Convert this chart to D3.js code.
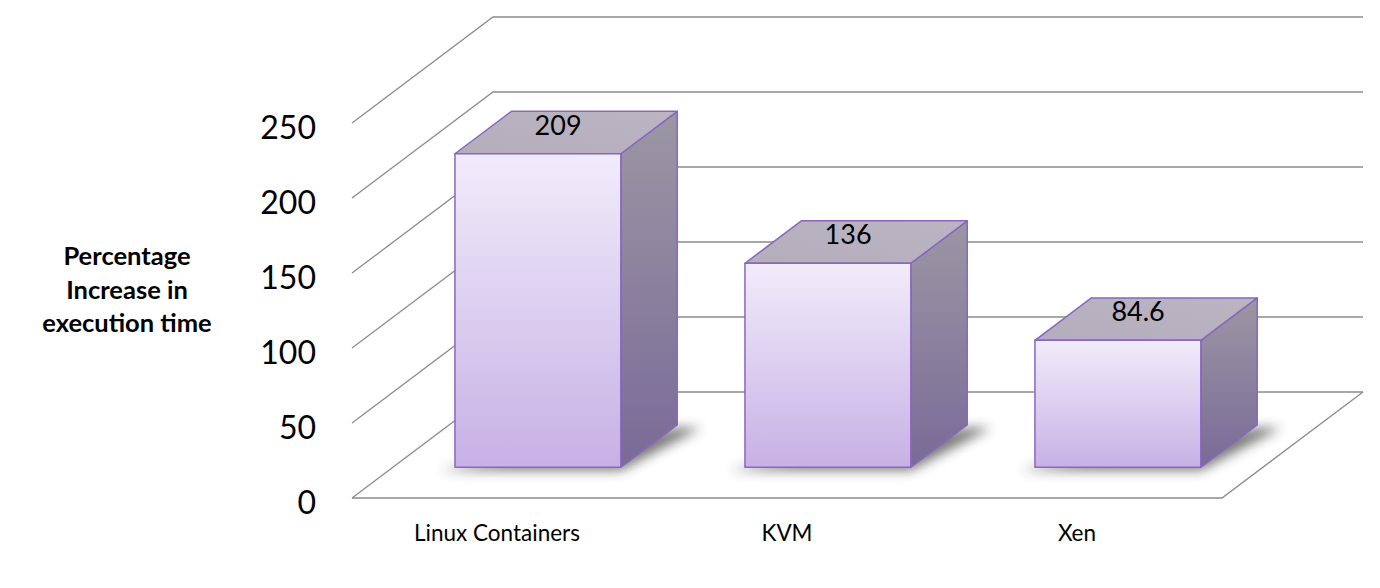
<!DOCTYPE html>
<html><head><meta charset="utf-8">
<script src="https://cdn.jsdelivr.net/npm/d3@7/dist/d3.min.js"></script>
<style>html,body{margin:0;padding:0;background:#fff;}svg{display:block;}</style>
</head><body>
<svg id="chart" width="1380" height="588"></svg>
<script>
const categories = ["Linux Containers", "KVM", "Xen"];
const values = [209, 136, 84.6];
const valueLabels = ["209", "136", "84.6"];
const yTicks = [0, 50, 100, 150, 200, 250];
const axisTitle = ["Percentage", "Increase in", "execution time"];

const W = 1380, H = 588;
const svg = d3.select("#chart");
const X0 = 352, X1 = 1222, Y0 = 498, Y1 = 123;
const DX = 141, DY = -106;           // full depth offset
const zFront = 0.29, zBack = 0.69;   // bar depth range

const y = d3.scaleLinear().domain([0, 250]).range([Y0, Y1]);
const x = d3.scaleBand().domain(categories).range([X0, X1]).paddingInner(0.428).paddingOuter(0.214);
const P = (px, v, z) => [px + z * DX, y(v) + z * DY];

const defs = svg.append("defs");
const gf = defs.append("linearGradient").attr("id", "gFront").attr("x1", 0).attr("y1", 0).attr("x2", 0).attr("y2", 1);
gf.append("stop").attr("offset", "0%").attr("stop-color", "#f1ecfa");
gf.append("stop").attr("offset", "100%").attr("stop-color", "#c7b1e5");
const gs = defs.append("linearGradient").attr("id", "gSide").attr("x1", 0).attr("y1", 0).attr("x2", 0).attr("y2", 1);
gs.append("stop").attr("offset", "0%").attr("stop-color", "#9b97a4");
gs.append("stop").attr("offset", "100%").attr("stop-color", "#7a6a97");
const gt = defs.append("linearGradient").attr("id", "gTop").attr("x1", 0).attr("y1", 1).attr("x2", 1).attr("y2", 0);
gt.append("stop").attr("offset", "0%").attr("stop-color", "#b3adbc");
gt.append("stop").attr("offset", "100%").attr("stop-color", "#bbb5c3");
const sh = defs.append("filter").attr("id", "shadow").attr("x", "-20%").attr("y", "-50%").attr("width", "140%").attr("height", "200%");
sh.append("feGaussianBlur").attr("stdDeviation", 6);

// grid
const grid = svg.append("g").attr("stroke", "#8c8c8c").attr("stroke-width", 1.3).attr("fill", "none");
yTicks.forEach(t => {
  const a = P(X0, t, 0), b = P(X0, t, 1), c = P(X1, t, 1);
  grid.append("path").attr("d", d3.line()([a, b, c]));
});
// floor front & right edges
grid.append("path").attr("d", d3.line()([P(X0, 0, 0), P(X1, 0, 0), P(X1, 0, 1)]));

// y tick labels
svg.append("g").selectAll("text").data(yTicks).join("text")
  .attr("x", 316).attr("y", d => y(d) + 16)
  .attr("text-anchor", "end").attr("font-family", "Lato, 'Open Sans', sans-serif")
  .attr("font-size", 32).attr("fill", "#000").text(d => d);

// axis title
svg.append("text").attr("font-family", "Lato, 'Open Sans', sans-serif").attr("font-weight", "bold")
  .attr("font-size", 25.5).attr("text-anchor", "middle").attr("fill", "#000")
  .selectAll("tspan").data(axisTitle).join("tspan")
  .attr("x", 127).attr("y", (d, i) => 265 + i * 33.5).text(d => d);

// category labels
svg.append("g").selectAll("text").data(categories).join("text")
  .attr("x", d => x(d) + x.bandwidth() / 2).attr("y", 541)
  .attr("text-anchor", "middle").attr("font-family", "Lato, 'Open Sans', sans-serif")
  .attr("font-size", 22.5).attr("fill", "#000").text(d => d);

// bars
const bars = svg.append("g").selectAll("g").data(categories.map((c, i) => ({c, v: values[i], lbl: valueLabels[i]}))).join("g");
const poly = pts => "M" + pts.map(p => p.join(",")).join("L") + "Z";

bars.append("path")
  .attr("d", d => {
    const l = x(d.c), r = l + x.bandwidth();
    return poly([P(l - 16, 0, zFront), P(r, 0, zFront), P(r + 24, 0, zBack), P(r, 0, zBack)].map(p => [p[0], p[1] + 3]));
  })
  .attr("fill", "#333").attr("opacity", 0.65).attr("filter", "url(#shadow)");

const edge = {stroke: "#8a66c0", "stroke-width": 1.5, "stroke-linejoin": "round"};
function applyEdge(s) { Object.entries(edge).forEach(([k, v]) => s.attr(k, v)); return s; }

applyEdge(bars.append("path").attr("d", d => {
  const l = x(d.c), r = l + x.bandwidth();
  return poly([P(r, 0, zFront), P(r, 0, zBack), P(r, d.v, zBack), P(r, d.v, zFront)]);
}).attr("fill", "url(#gSide)"));

applyEdge(bars.append("path").attr("d", d => {
  const l = x(d.c), r = l + x.bandwidth();
  return poly([P(l, d.v, zFront), P(r, d.v, zFront), P(r, d.v, zBack), P(l, d.v, zBack)]);
}).attr("fill", "url(#gTop)"));

applyEdge(bars.append("path").attr("d", d => {
  const l = x(d.c), r = l + x.bandwidth();
  return poly([P(l, 0, zFront), P(r, 0, zFront), P(r, d.v, zFront), P(l, d.v, zFront)]);
}).attr("fill", "url(#gFront)"));

bars.append("text")
  .attr("x", d => P(x(d.c) + x.bandwidth() / 2, d.v, (zFront + zBack) / 2)[0] - 8)
  .attr("y", d => P(x(d.c) + x.bandwidth() / 2, d.v, (zFront + zBack) / 2)[1] + 2)
  .attr("text-anchor", "middle").attr("font-family", "Lato, 'Open Sans', sans-serif")
  .attr("font-size", 27).attr("fill", "#000").text(d => d.lbl);
</script>
</body></html>
